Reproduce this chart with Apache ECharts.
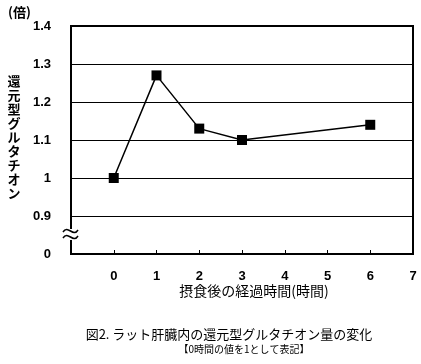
<!DOCTYPE html>
<html><head><meta charset="utf-8">
<script src="https://cdn.jsdelivr.net/npm/echarts@6/dist/echarts.min.js"></script>
<style>html,body{margin:0;padding:0;background:#fff}#c{width:421px;height:364px}</style>
</head><body><div id="c"></div>
<script>
const hours = [0, 1, 2, 3, 6];
const values = [1.00, 1.27, 1.13, 1.10, 1.14];
const xTickLabels = ['0', '1', '2', '3', '4', '5', '6', '7'];
const yTickValues = [0.8, 0.9, 1.0, 1.1, 1.2, 1.3, 1.4];
const yTickLabels = ['0', '0.9', '1', '1.1', '1.2', '1.3', '1.4'];
const yTitle = '還元型グルタチオン';
const yUnit = '(倍)';
const xTitle = '摂食後の経過時間(時間)';
const caption1 = '図2. ラット肝臓内の還元型グルタチオン量の変化';
const caption2 = '【0時間の値を1として表記】';

const chart = echarts.init(document.getElementById('c'), null, {renderer: 'canvas'});
const numFont = {fontFamily: 'Liberation Sans, Arial, sans-serif', fontWeight: 'bold', fontSize: 13, color: '#000'};
chart.setOption({
  animation: false,
  backgroundColor: '#fff',
  grid: {left: 71, right: 8, top: 26, bottom: 110, show: true, borderColor: '#000', borderWidth: 2, containLabel: false},
  xAxis: {
    type: 'value', min: -1, max: 7, interval: 1,
    axisLine: {show: true, onZero: false, lineStyle: {color: '#000', width: 2}},
    axisTick: {show: true, inside: true, length: 4, lineStyle: {color: '#000', width: 1}},
    splitLine: {show: false},
    axisLabel: Object.assign({margin: 16, showMinLabel: false, formatter: v => (v >= 0 ? xTickLabels[Math.round(v)] : '')}, numFont)
  },
  yAxis: {
    type: 'value', min: 0.8, max: 1.4, interval: 0.1,
    axisLine: {show: true, onZero: false, lineStyle: {color: '#000', width: 2}},
    axisTick: {show: false},
    splitLine: {show: true, lineStyle: {color: '#000', width: 1}},
    axisLabel: Object.assign({margin: 20, formatter: v => {
      const i = yTickValues.findIndex(t => Math.abs(t - v) < 1e-6);
      return i >= 0 ? yTickLabels[i] : '';
    }}, numFont)
  },
  series: [{
    type: 'line',
    data: hours.map((h, i) => [h, values[i]]),
    symbol: 'rect', symbolSize: 10,
    itemStyle: {color: '#000'},
    lineStyle: {color: '#000', width: 1.5},
    z: 5
  }],
  graphic: [
    {type: 'rect', shape: {x: 68, y: 229, width: 6, height: 11}, style: {fill: '#fff'}, z: 100},
    {type: 'bezierCurve', shape: {x1: 63, y1: 232, x2: 78, y2: 230, cpx1: 68, cpy1: 224, cpx2: 73, cpy2: 238}, style: {stroke: '#000', lineWidth: 1.5, fill: 'none'}, z: 101},
    {type: 'bezierCurve', shape: {x1: 63, y1: 238, x2: 78, y2: 236, cpx1: 68, cpy1: 230, cpx2: 73, cpy2: 244}, style: {stroke: '#000', lineWidth: 1.5, fill: 'none'}, z: 101},
    {type: 'text', left: 8, top: 6, style: {text: yUnit, font: 'bold 13px "Noto Sans CJK JP"', fill: '#000'}},
    {type: 'text', x: 14, y: 74, style: {text: yTitle.split('').join('\n'), font: 'bold 13px "Noto Sans CJK JP"', lineHeight: 14, fill: '#000', align: 'center', verticalAlign: 'top'}},
    {type: 'text', x: 254, y: 291, style: {text: xTitle, font: '14px "Noto Sans CJK JP"', fill: '#000', align: 'center', verticalAlign: 'middle'}},
    {type: 'text', x: 229, y: 334, style: {text: caption1, font: '13px "Noto Sans CJK JP"', fill: '#000', align: 'center', verticalAlign: 'middle'}},
    {type: 'text', x: 244, y: 349, style: {text: caption2, font: '10px "Noto Sans CJK JP"', fill: '#000', align: 'center', verticalAlign: 'middle'}}
  ]
});
</script></body></html>
